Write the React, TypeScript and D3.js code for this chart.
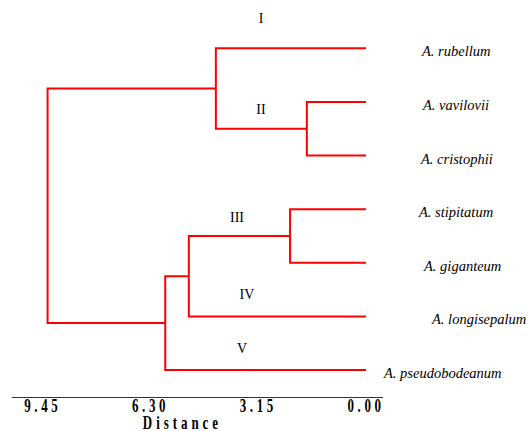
import React from "react";
import * as d3 from "d3";

// ---- data ----
const leaves = [
  "A. rubellum",
  "A. vavilovii",
  "A. cristophii",
  "A. stipitatum",
  "A. giganteum",
  "A. longisepalum",
  "A. pseudobodeanum",
];
// linkage: [left, right, height]; leaves are 0..6, clusters 7..
const merges: [number, number, number][] = [
  [1, 2, 1.73], // 7
  [3, 4, 2.22], // 8
  [0, 7, 4.39], // 9
  [8, 5, 5.18], // 10
  [10, 6, 5.87], // 11
  [9, 11, 9.31], // 12
];
const tickValues = [9.45, 6.3, 3.15, 0.0];
const clusterLabels = ["I", "II", "III", "IV", "V"];

// ---- layout ----
const W = 530;
const H = 431;
const leafLabelX = [422, 423, 421, 419, 424, 432, 384];
const clusterLabelPos = [
  [261, 18],
  [261, 109],
  [237, 217],
  [247, 294],
  [242, 348],
];

export default function App() {
  const x = d3.scaleLinear().domain([0, 9.45]).range([366, 42.8]);
  const y = d3.scaleLinear().domain([0, leaves.length - 1]).range([48.3, 370]);

  const nodeY: number[] = leaves.map((_, i) => y(i));
  const nodeH: number[] = leaves.map(() => 0);
  merges.forEach(([a, b, h]) => {
    nodeY.push((nodeY[a] + nodeY[b]) / 2);
    nodeH.push(h);
  });

  const paths: string[] = merges.map(([a, b, h]) => {
    const p = d3.path();
    p.moveTo(x(nodeH[a]), nodeY[a]);
    p.lineTo(x(h), nodeY[a]);
    p.lineTo(x(h), nodeY[b]);
    p.lineTo(x(nodeH[b]), nodeY[b]);
    return p.toString();
  });

  const axisY = 397.5;
  const tickFont = { fontFamily: "Liberation Serif", fontWeight: "bold" as const };

  return (
    <svg
      width={W}
      height={H}
      style={{ position: "absolute", left: 0, top: 0, background: "#fff" }}
    >
      <rect width={W} height={H} fill="#fff" />
      {paths.map((d, i) => (
        <path key={i} d={d} fill="none" stroke="#ff0000" strokeWidth={2} />
      ))}
      {leaves.map((name, i) => (
        <text
          key={name}
          x={leafLabelX[i]}
          y={y(i) + 8}
          fontFamily="Liberation Serif"
          fontStyle="italic"
          fontSize={14.5}
          fill="#000"
        >
          {name}
        </text>
      ))}
      {clusterLabels.map((t, i) => (
        <text
          key={t}
          x={clusterLabelPos[i][0]}
          y={clusterLabelPos[i][1] + 5}
          textAnchor="middle"
          fontFamily="Liberation Serif"
          fontSize={14}
          fill="#000"
        >
          {t}
        </text>
      ))}
      <line
        x1={x(10.35)}
        x2={x(-0.5)}
        y1={axisY}
        y2={axisY}
        stroke="#333"
        strokeWidth={1.2}
      />
      {tickValues.map((v) => (
        <g key={v} transform={`translate(${x(v)},${axisY + 14}) scale(0.72,1)`}>
          <text
            textAnchor="middle"
            fontSize={18}
            letterSpacing={5}
            fill="#000"
            {...tickFont}
          >
            {v.toFixed(2)}
          </text>
        </g>
      ))}
      <g transform={`translate(${(x(6.3) + x(3.15)) / 2 - 22},${428.5}) scale(0.72,1)`}>
        <text
          textAnchor="middle"
          fontSize={18}
          letterSpacing={5.5}
          fill="#000"
          {...tickFont}
        >
          Distance
        </text>
      </g>
    </svg>
  );
}
